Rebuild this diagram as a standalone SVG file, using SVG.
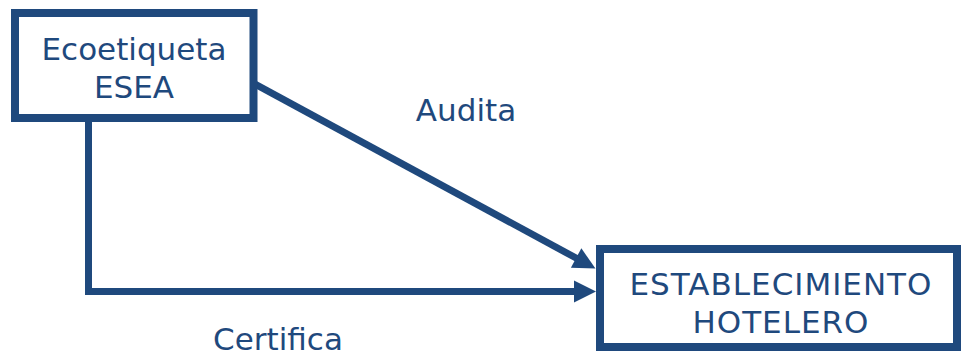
<svg xmlns="http://www.w3.org/2000/svg" width="962" height="358" viewBox="0 0 962 358">
<style>
.box{fill:#fff;stroke:#1f497d;stroke-width:8}
.ln{fill:none;stroke:#1f497d;stroke-width:7}
text{font-family:"DejaVu Sans",Verdana,sans-serif;font-size:31px;fill:#1f497d;text-anchor:middle}
</style>
<defs>
<marker id="ah" markerUnits="userSpaceOnUse" markerWidth="24" markerHeight="24" viewBox="0 0 22 24" refX="1" refY="12" orient="auto">
<path d="M0,1 L22,12 L0,23 Z" fill="#1f497d"/>
</marker>
</defs>
<g id="connectors">
<path class="ln" d="M88.5,118 V291.5 H575" marker-end="url(#ah)"/>
<path class="ln" d="M255,84 L577,258.5" marker-end="url(#ah)"/>
<text x="466" y="121">Audita</text>
<text x="278" y="350">Certifica</text>
</g>
<g id="ecoetiqueta">
<rect class="box" x="15" y="13" width="238.5" height="105"/>
<text x="134" y="60">Ecoetiqueta</text>
<text x="134" y="98">ESEA</text>
</g>
<g id="establecimiento">
<rect class="box" x="600" y="249" width="357" height="98"/>
<text x="781" y="295" letter-spacing="1">ESTABLECIMIENTO</text>
<text x="781" y="333" letter-spacing="1">HOTELERO</text>
</g>
</svg>
